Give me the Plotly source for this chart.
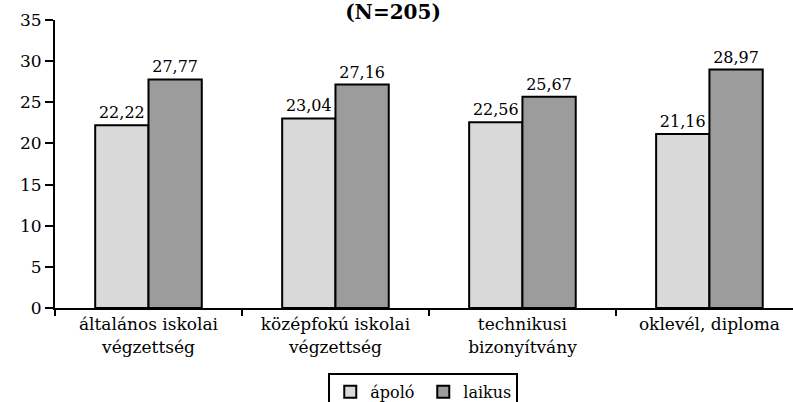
import plotly.graph_objects as go

categories = ["általános iskolai<br>végzettség", "középfokú iskolai<br>végzettség",
              "technikusi<br>bizonyítvány", "oklevél, diploma"]
apolo = [22.22, 23.04, 22.56, 21.16]
laikus = [27.77, 27.16, 25.67, 28.97]
apolo_labels = ["22,22", "23,04", "22,56", "21,16"]
laikus_labels = ["27,77", "27,16", "25,67", "28,97"]

FONT = "DejaVu Serif"

fig = go.Figure()
fig.add_bar(x=categories, y=apolo, name="ápoló", text=apolo_labels,
            textposition="outside", cliponaxis=False,
            marker=dict(color="#D9D9D9", line=dict(color="black", width=2)))
fig.add_bar(x=categories, y=laikus, name="laikus", text=laikus_labels,
            textposition="outside", cliponaxis=False,
            marker=dict(color="#9C9C9C", line=dict(color="black", width=2)))

fig.update_traces(textfont=dict(family=FONT, size=16, color="black"))

fig.update_layout(
    width=793, height=402,
    margin=dict(l=55, r=0, t=20, b=94, autoexpand=False),
    paper_bgcolor="white", plot_bgcolor="white",
    font=dict(family=FONT, size=17, color="black"),
    barmode="group", bargap=0.43, bargroupgap=0,
    title=dict(text="<b>(N=205)</b>", x=393 / 793, xanchor="center",
               y=1 - 12 / 402, yanchor="middle", font=dict(family=FONT, size=20)),
    showlegend=True,
    legend=dict(orientation="h", x=0.499, xanchor="center", y=-0.225, yanchor="top",
                bordercolor="black", borderwidth=2, bgcolor="white",
                font=dict(family=FONT, size=16), itemwidth=30, entrywidth=48,
                tracegroupgap=0),
    uniformtext=dict(minsize=10, mode="show"),
)
fig.update_yaxes(range=[0, 35], dtick=5, showgrid=False, zeroline=False,
                 showline=True, linecolor="black", linewidth=2, automargin=False,
                 ticks="outside", ticklen=8, tickwidth=2, tickcolor="black",
                 tickfont=dict(family=FONT, size=17))
fig.update_xaxes(range=[-0.5, 3.447], showgrid=False, showline=True, automargin=False,
                 linecolor="black", linewidth=2, tickson="boundaries",
                 ticks="outside", ticklen=6, tickwidth=2, tickcolor="black",
                 tickfont=dict(family=FONT, size=17))

fig.write_html("out.html", config={"displayModeBar": False},
               post_script="document.body.style.margin='0';document.body.style.overflow='hidden';")
